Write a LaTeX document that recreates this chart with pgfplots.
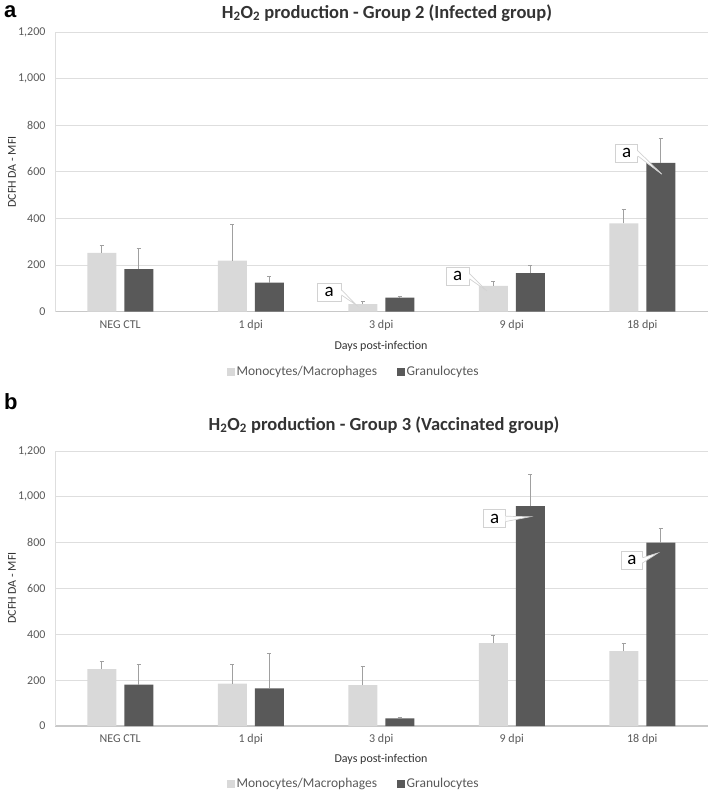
\documentclass[border=0pt]{standalone}
\usepackage{pgfplots}
\pgfplotsset{compat=1.18}
\usepackage{fontspec}
\setmainfont{Carlito}
\newfontfamily\arialfont{Liberation Sans}
\definecolor{lightbar}{HTML}{D9D9D9}
\definecolor{darkbar}{HTML}{595959}
\definecolor{gridc}{HTML}{DEDEDE}
\definecolor{textc}{HTML}{595959}
\definecolor{titlec}{HTML}{333333}
\definecolor{errc}{HTML}{A0A0A0}
\definecolor{basec}{HTML}{C8C8C8}

\pgfplotsset{
  mybar/.style={
    scale only axis, width=652.5pt,
    xmin=-0.5, xmax=4.5, ymin=0, ymax=1200,
    ybar=8pt, bar width=29pt,
    xtick={0,1,2,3,4},
    xticklabels={NEG CTL,1 dpi,3 dpi,9 dpi,18 dpi},
    ytick={0,200,400,600,800,1000,1200},
    ymajorgrids, grid style={gridc, line width=0.9pt},
    axis x line*=bottom, axis y line*=left,
    x axis line style={basec, line width=1.3pt, -},
    y axis line style={gridc, line width=0.8pt, -},
    major tick length=0pt,
    /pgf/number format/.cd, 1000 sep={,}, assume math mode=true,
    /pgfplots/.cd,
    tick label style={font=\fontsize{12}{14}\selectfont, text=textc},
    xticklabel style={yshift=-5pt},
    yticklabel style={xshift=-6pt},
    legend style={draw=none, fill=none, legend columns=2,
      font=\fontsize{13.5}{15}\selectfont, text=textc,
      /tikz/every even column/.append style={column sep=18pt},
      legend cell align=left},
    legend image code/.code={\fill[##1] (0pt,-3.6pt) rectangle (7.5pt,3.6pt);},
    lightstyle/.style={fill=lightbar, draw=none,
      error bars/.cd, y dir=plus, y explicit,
      error bar style={errc, line width=0.8pt},
      error mark options={errc, line width=0.8pt, mark size=2.2pt, rotate=90}},
    darkstyle/.style={fill=darkbar, draw=none,
      error bars/.cd, y dir=plus, y explicit,
      error bar style={errc, line width=0.8pt},
      error mark options={errc, line width=0.8pt, mark size=2.2pt, rotate=90}},
  }
}

\newcommand\callout[5]{%
  \node[draw=gray!35, fill=white, line width=0.7pt, inner sep=0pt,
        minimum width=#1pt, minimum height=18pt,
        font=\fontsize{19}{19}\selectfont, text=black] (cb) at (axis cs:#2,#3) {a};
  \fill[white] ([yshift=2.6pt,xshift=-0.8pt]cb.east) -- (axis cs:#4,#5) -- ([yshift=-2.6pt,xshift=-0.8pt]cb.east) -- cycle;
  \draw[gray!35, line width=0.7pt] ([yshift=2.6pt]cb.east) -- (axis cs:#4,#5) -- ([yshift=-2.6pt]cb.east);
}

\begin{document}
\begin{tikzpicture}
\path (0pt,0pt) rectangle (709pt,-795pt);

% ---------------- Panel a ----------------
\node[font=\arialfont\bfseries\fontsize{22}{22}\selectfont, anchor=west, inner sep=0pt] at (4pt,-12pt) {a};
\node[font=\bfseries\fontsize{18.5}{20}\selectfont, text=titlec] at (387pt,-13pt)
  {H\textsubscript{2}O\textsubscript{2} production - Group 2 (Infected group)};
\node[rotate=90, font=\fontsize{12}{14}\selectfont, text=titlec] at (12pt,-172pt) {DCFH DA - MFI};
\node[font=\fontsize{12}{14}\selectfont, text=titlec] at (381pt,-346pt) {Days post-infection};

\begin{axis}[mybar, height=279.7pt,
  at={(55pt,-311.7pt)}, anchor=south west,
  legend style={at={(0.458,-0.2156)}, anchor=center}]
\addplot[lightstyle] coordinates {
  (0,252) +- (0,32)
  (1,219) +- (0,156)
  (2,33)  +- (0,10)
  (3,111) +- (0,17)
  (4,379) +- (0,59)
};
\addplot[darkstyle] coordinates {
  (0,183) +- (0,87)
  (1,125) +- (0,25)
  (2,60)  +- (0,5)
  (3,166) +- (0,33)
  (4,639) +- (0,105)
};
\legend{Monocytes/Macrophages, Granulocytes}
\callout{24}{1.60}{83}{1.81}{28}
\callout{23}{2.586}{152}{2.81}{89}
\callout{22}{3.88}{679}{4.15}{590}
\end{axis}

% ---------------- Panel b ----------------
\node[font=\arialfont\bfseries\fontsize{22}{22}\selectfont, anchor=west, inner sep=0pt] at (4pt,-402pt) {b};
\node[font=\bfseries\fontsize{18.5}{20}\selectfont, text=titlec] at (384pt,-425pt)
  {H\textsubscript{2}O\textsubscript{2} production - Group 3 (Vaccinated group)};
\node[rotate=90, font=\fontsize{12}{14}\selectfont, text=titlec] at (12pt,-588pt) {DCFH DA - MFI};
\node[font=\fontsize{12}{14}\selectfont, text=titlec] at (381pt,-759pt) {Days post-infection};

\begin{axis}[mybar, height=275pt,
  at={(55pt,-726pt)}, anchor=south west,
  legend style={at={(0.458,-0.211)}, anchor=center}]
\addplot[lightstyle] coordinates {
  (0,248) +- (0,34)
  (1,185) +- (0,83)
  (2,178) +- (0,80)
  (3,362) +- (0,35)
  (4,327) +- (0,35)
};
\addplot[darkstyle] coordinates {
  (0,181) +- (0,87)
  (1,164) +- (0,153)
  (2,33)  +- (0,6)
  (3,960) +- (0,136)
  (4,800) +- (0,61)
};
\legend{Monocytes/Macrophages, Granulocytes}
\callout{22}{2.87}{904}{3.14}{913}
\callout{21}{3.92}{723}{4.12}{755}
\end{axis}
\end{tikzpicture}
\end{document}
